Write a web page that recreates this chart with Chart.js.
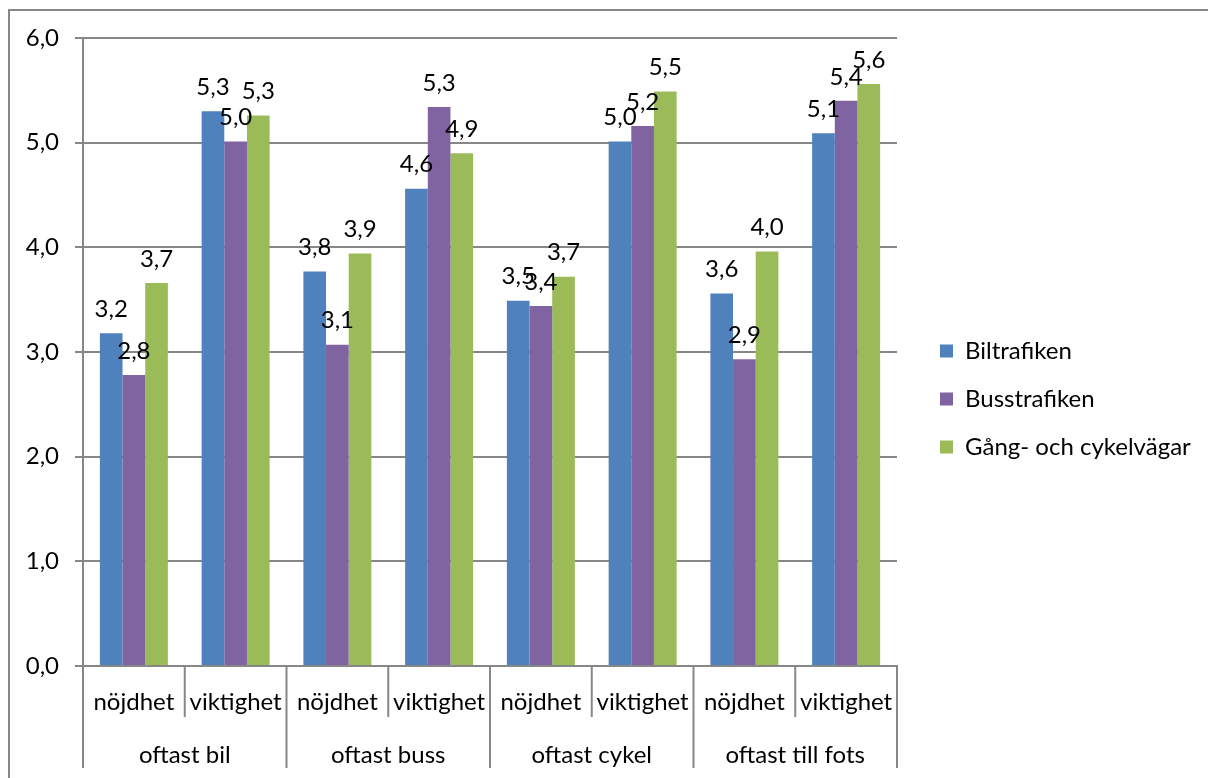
<!DOCTYPE html>
<html>
<head>
<meta charset="utf-8">
<script src="https://cdn.jsdelivr.net/npm/chart.js@4.4.1/dist/chart.umd.min.js"></script>
<style>
  html, body { margin: 0; padding: 0; background: #fff; }
  canvas { display: block; }
</style>
</head>
<body>
<canvas id="chart" width="1208" height="778"></canvas>
<script>
// data
const subLabels = ['nöjdhet', 'viktighet', 'nöjdhet', 'viktighet', 'nöjdhet', 'viktighet', 'nöjdhet', 'viktighet'];
const groupLabels = ['oftast bil', 'oftast buss', 'oftast cykel', 'oftast till fots'];
const seriesNames = ['Biltrafiken', 'Busstrafiken', 'Gång- och cykelvägar'];
const biltrafiken = [3.18, 5.30, 3.77, 4.56, 3.49, 5.01, 3.56, 5.09];
const busstrafiken = [2.78, 5.01, 3.07, 5.34, 3.44, 5.16, 2.93, 5.40];
const gangCykel = [3.66, 5.26, 3.94, 4.90, 3.72, 5.49, 3.96, 5.56];
const yTicks = [0, 1, 2, 3, 4, 5, 6];

const FONT = 'Lato, "Liberation Sans", sans-serif';
const FS = 24;
const GRID = '#878787';

const fmt = v => v.toFixed(1).replace('.', ',');

// outer frame
const framePlugin = {
  id: 'frame',
  beforeDraw(chart) {
    const ctx = chart.ctx;
    ctx.save();
    ctx.strokeStyle = GRID;
    ctx.lineWidth = 2;
    ctx.strokeRect(9, 10, 1230, 800);
    ctx.restore();
  }
};

// fixed legend width + nudge
const legendFix = {
  id: 'legendFix',
  afterInit(chart) {
    const lg = chart.legend;
    if (!lg) return;
    const fit = lg.fit.bind(lg);
    lg.fit = function () { fit(); this.width = 311; };
  },
  afterLayout(chart) {
    const lg = chart.legend;
    const dx = 19, dy = -9;
    lg.left += dx; lg.right += dx;
    lg.top += dy; lg.bottom += dy;
  }
};

// value labels above bars
const valueLabels = {
  id: 'valueLabels',
  afterDatasetsDraw(chart) {
    const ctx = chart.ctx;
    ctx.save();
    ctx.font = FS + 'px ' + FONT;
    ctx.fillStyle = '#000';
    ctx.textAlign = 'center';
    ctx.textBaseline = 'middle';
    chart.data.datasets.forEach((ds, i) => {
      chart.getDatasetMeta(i).data.forEach((bar, j) => {
        ctx.fillText(fmt(ds.data[j]), bar.x, bar.y - 24);
      });
    });
    ctx.restore();
  }
};

// category separators and group labels
const groupAxis = {
  id: 'groupAxis',
  afterDraw(chart) {
    const ctx = chart.ctx;
    const x = chart.scales.x;
    const step = (x.right - x.left) / subLabels.length;
    const top = x.top;
    ctx.save();
    ctx.strokeStyle = GRID;
    ctx.lineWidth = 2;
    for (let i = 0; i <= subLabels.length; i++) {
      const px = x.left + i * step;
      const bottom = i % 2 === 0 ? top + 102 : top + 51;
      ctx.beginPath();
      ctx.moveTo(px, top);
      ctx.lineTo(px, bottom);
      ctx.stroke();
    }
    ctx.font = FS + 'px ' + FONT;
    ctx.fillStyle = '#000';
    ctx.textAlign = 'center';
    ctx.textBaseline = 'middle';
    groupLabels.forEach((g, k) => {
      const cx = (x.getPixelForValue(2 * k) + x.getPixelForValue(2 * k + 1)) / 2;
      ctx.fillText(g, cx, top + 89);
    });
    ctx.restore();
  }
};

new Chart(document.getElementById('chart'), {
  type: 'bar',
  data: {
    labels: subLabels,
    datasets: [
      { label: seriesNames[0], data: biltrafiken, backgroundColor: '#4F81BD' },
      { label: seriesNames[1], data: busstrafiken, backgroundColor: '#8064A2' },
      { label: seriesNames[2], data: gangCykel, backgroundColor: '#9BBB59' }
    ]
  },
  options: {
    responsive: false,
    animation: false,
    devicePixelRatio: 1,
    datasets: { bar: { categoryPercentage: 0.668, barPercentage: 1.0, borderWidth: 0 } },
    layout: { padding: { top: 38, left: 0, right: 0, bottom: 0 } },
    plugins: {
      legend: {
        position: 'right',
        labels: {
          boxWidth: 13,
          boxHeight: 13,
          padding: 24,
          color: '#000',
          font: { family: FONT, size: FS }
        }
      },
      tooltip: { enabled: false }
    },
    scales: {
      x: {
        grid: { display: false, drawTicks: false },
        border: { display: true, color: GRID, width: 2 },
        ticks: { color: '#000', font: { family: FONT, size: FS }, padding: 22, maxRotation: 0, autoSkip: false },
        afterFit(s) { s.height = 112; }
      },
      y: {
        min: 0,
        max: 6,
        afterBuildTicks(s) { s.ticks = yTicks.map(v => ({ value: v })); },
        grid: { color: GRID, lineWidth: 2, tickLength: 8 },
        border: { display: true, color: GRID, width: 2 },
        ticks: { color: '#000', font: { family: FONT, size: FS }, padding: 16, callback: v => fmt(v) },
        afterFit(s) { s.width = 83; }
      }
    }
  },
  plugins: [framePlugin, legendFix, valueLabels, groupAxis]
});
</script>
</body>
</html>
